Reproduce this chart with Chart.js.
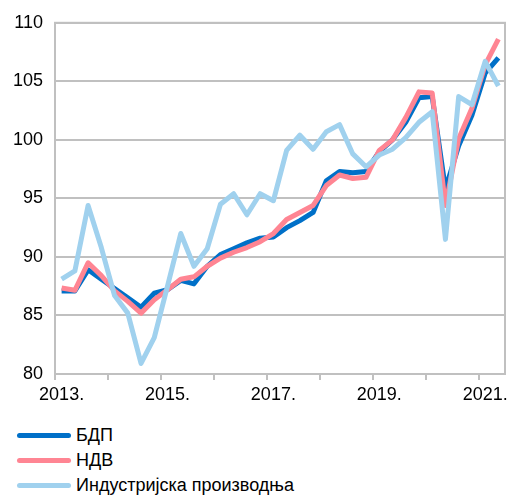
<!DOCTYPE html>
<html>
<head>
<meta charset="utf-8">
<script src="https://cdn.jsdelivr.net/npm/chart.js@4.4.1/dist/chart.umd.min.js"></script>
<style>
  body { margin: 0; background: #fff; font-family: "Liberation Sans", Arial, sans-serif; }
  #wrap { position: absolute; left: 0; top: 0; width: 509px; height: 415px; }
  #legend { position: absolute; left: 17px; top: 423px; }
  .item { height: 25px; display: flex; align-items: center; font-size: 18px; color: #000; }
  .swatch { width: 54px; height: 5px; border-radius: 3px; margin-right: 5px; }
</style>
</head>
<body>
<div id="wrap"><canvas id="chart"></canvas></div>
<div id="legend"></div>
<script>
// quarters 2013 Q1 - 2021 Q2
var years = ['2013', '2014', '2015', '2016', '2017', '2018', '2019', '2020', '2021'];
var quarters = [];
years.forEach(function(y) {
  for (var q = 1; q <= 4; q++) quarters.push(y + ' Q' + q);
});
quarters = quarters.slice(0, 34);

var seriesNames = ['БДП', 'НДВ', 'Индустријска производња'];
var bdp = [87.1, 87.1, 88.9, 88.1, 87.3, 86.5, 85.7, 86.9,
           87.2, 88.0, 87.7, 89.2, 90.2, 90.7, 91.2, 91.6,
           91.7, 92.5, 93.1, 93.8, 96.5, 97.3, 97.2, 97.3,
           99.0, 100.0, 101.5, 103.6, 103.7, 95.8, 99.5, 102.1,
           105.7, 107.0];
var ndv = [87.35, 87.15, 89.5, 88.4, 87.1, 86.2, 85.2, 86.35,
           87.2, 88.1, 88.3, 89.2, 89.9, 90.4, 90.8, 91.3,
           92.0, 93.2, 93.8, 94.4, 96.1, 97.0, 96.7, 96.8,
           99.1, 100.0, 101.9, 104.1, 104.0, 94.4, 100.1, 102.7,
           106.4, 108.6];
var industry = [88.1, 88.8, 94.4, 90.8, 86.7, 85.2, 80.9, 83.1,
                87.5, 92.0, 89.2, 90.7, 94.5, 95.4, 93.6, 95.4,
                94.8, 99.1, 100.4, 99.2, 100.7, 101.3, 98.8, 97.7,
                98.7, 99.2, 100.2, 101.5, 102.4, 91.5, 103.7, 103.0,
                106.7, 104.6];
var colors = ['#0070c8', '#ff8593', '#a0d1ee'];
var yTicks = [80, 85, 90, 95, 100, 105, 110];

var gridColor = '#c0c0c0';

// frame round the plot area
var frame = {
  id: 'frame',
  afterDatasetsDraw: function(chart) {
    var a = chart.chartArea, ctx = chart.ctx;
    ctx.save();
    ctx.strokeStyle = gridColor;
    ctx.lineWidth = 2;
    ctx.strokeRect(a.left, a.top, a.right - a.left, a.bottom - a.top);
    ctx.restore();
  }
};

function makeSet(i, values, order) {
  return {
    label: seriesNames[i],
    data: values,
    borderColor: colors[i],
    backgroundColor: colors[i],
    borderWidth: 5,
    pointRadius: 0,
    tension: 0,
    borderJoinStyle: 'round',
    order: order
  };
}

function drawChart() {
  new Chart(document.getElementById('chart'), {
    type: 'line',
    data: {
      labels: quarters,
      datasets: [makeSet(0, bdp, 3), makeSet(1, ndv, 2), makeSet(2, industry, 1)]
    },
    plugins: [frame],
    options: {
      responsive: true,
      maintainAspectRatio: false,
      animation: false,
      layout: { padding: { top: 19, right: 4, left: 0, bottom: 0 } },
      plugins: { legend: { display: false }, tooltip: { enabled: false } },
      scales: {
        x: {
          offset: true,
          grid: {
            offset: true,
            drawOnChartArea: false,
            tickLength: 6,
            lineWidth: 2,
            color: function(c) { return c.index % 4 === 0 ? gridColor : 'rgba(0,0,0,0)'; }
          },
          border: { color: gridColor, width: 2 },
          ticks: {
            autoSkip: false,
            maxRotation: 0,
            padding: 4,
            color: '#000',
            font: { family: '"Liberation Sans", Arial', size: 18 },
            callback: function(v, i) { return i % 8 === 0 ? quarters[i].slice(0, 4) + '.' : ''; }
          },
          afterFit: function(s) { s.height = 41; }
        },
        y: {
          min: 80,
          max: 110,
          afterBuildTicks: function(s) { s.ticks = yTicks.map(function(v) { return { value: v }; }); },
          grid: { color: gridColor, lineWidth: 2, drawTicks: false },
          border: { color: gridColor, width: 2 },
          ticks: {
            padding: 12,
            color: '#000',
            font: { family: '"Liberation Sans", Arial', size: 18 }
          },
          afterFit: function(s) { s.width = 55; }
        }
      }
    }
  });
}

function drawLegend() {
  var box = document.getElementById('legend');
  seriesNames.forEach(function(name, i) {
    var row = document.createElement('div');
    row.className = 'item';
    row.innerHTML = '<span class="swatch" style="background:' + colors[i] + '"></span>' + name;
    box.appendChild(row);
  });
}

document.addEventListener('DOMContentLoaded', function() {
  drawChart();
  drawLegend();
});
</script>
</body>
</html>
